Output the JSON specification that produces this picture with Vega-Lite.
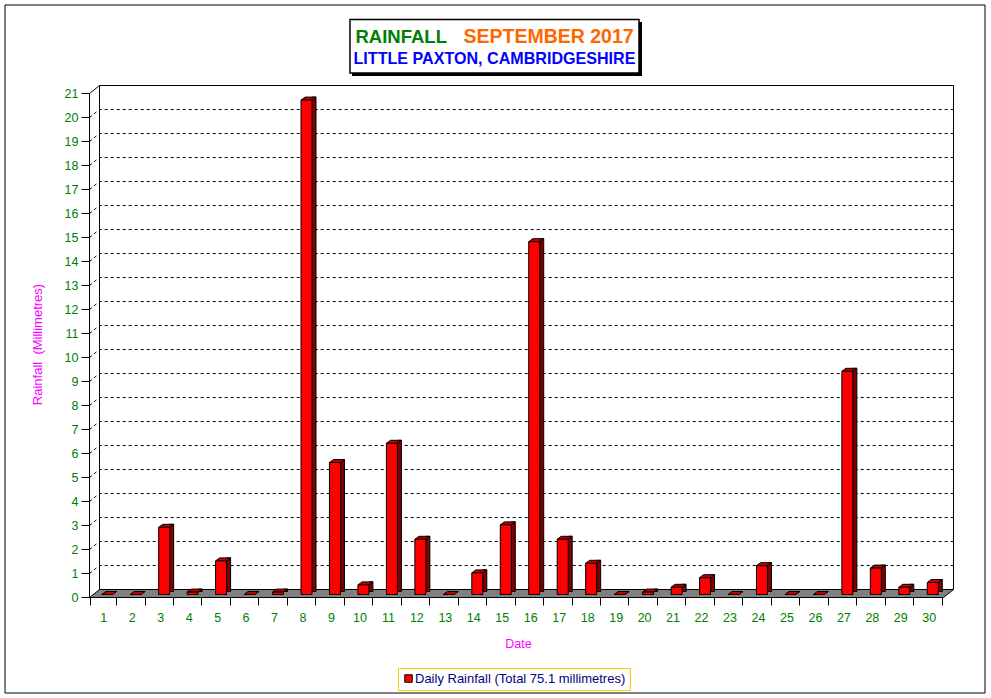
{"$schema":"https://vega.github.io/schema/vega-lite/v6.json","width":854,"height":504,"autosize":{"type":"none"},"padding":{"left":89,"top":93,"right":48,"bottom":101},"background":"white","config":{"view":{"stroke":null},"font":"Liberation Sans"},"datasets":{"rain":[{"day":1,"rain":0,"series":"Daily Rainfall (Total 75.1 millimetres)"},{"day":2,"rain":0,"series":"Daily Rainfall (Total 75.1 millimetres)"},{"day":3,"rain":2.8,"series":"Daily Rainfall (Total 75.1 millimetres)"},{"day":4,"rain":0.1,"series":"Daily Rainfall (Total 75.1 millimetres)"},{"day":5,"rain":1.4,"series":"Daily Rainfall (Total 75.1 millimetres)"},{"day":6,"rain":0,"series":"Daily Rainfall (Total 75.1 millimetres)"},{"day":7,"rain":0.1,"series":"Daily Rainfall (Total 75.1 millimetres)"},{"day":8,"rain":20.6,"series":"Daily Rainfall (Total 75.1 millimetres)"},{"day":9,"rain":5.5,"series":"Daily Rainfall (Total 75.1 millimetres)"},{"day":10,"rain":0.4,"series":"Daily Rainfall (Total 75.1 millimetres)"},{"day":11,"rain":6.3,"series":"Daily Rainfall (Total 75.1 millimetres)"},{"day":12,"rain":2.3,"series":"Daily Rainfall (Total 75.1 millimetres)"},{"day":13,"rain":0,"series":"Daily Rainfall (Total 75.1 millimetres)"},{"day":14,"rain":0.9,"series":"Daily Rainfall (Total 75.1 millimetres)"},{"day":15,"rain":2.9,"series":"Daily Rainfall (Total 75.1 millimetres)"},{"day":16,"rain":14.7,"series":"Daily Rainfall (Total 75.1 millimetres)"},{"day":17,"rain":2.3,"series":"Daily Rainfall (Total 75.1 millimetres)"},{"day":18,"rain":1.3,"series":"Daily Rainfall (Total 75.1 millimetres)"},{"day":19,"rain":0,"series":"Daily Rainfall (Total 75.1 millimetres)"},{"day":20,"rain":0.1,"series":"Daily Rainfall (Total 75.1 millimetres)"},{"day":21,"rain":0.3,"series":"Daily Rainfall (Total 75.1 millimetres)"},{"day":22,"rain":0.7,"series":"Daily Rainfall (Total 75.1 millimetres)"},{"day":23,"rain":0,"series":"Daily Rainfall (Total 75.1 millimetres)"},{"day":24,"rain":1.2,"series":"Daily Rainfall (Total 75.1 millimetres)"},{"day":25,"rain":0,"series":"Daily Rainfall (Total 75.1 millimetres)"},{"day":26,"rain":0,"series":"Daily Rainfall (Total 75.1 millimetres)"},{"day":27,"rain":9.3,"series":"Daily Rainfall (Total 75.1 millimetres)"},{"day":28,"rain":1.1,"series":"Daily Rainfall (Total 75.1 millimetres)"},{"day":29,"rain":0.3,"series":"Daily Rainfall (Total 75.1 millimetres)"},{"day":30,"rain":0.5,"series":"Daily Rainfall (Total 75.1 millimetres)"}],"grid":[{"rain":1},{"rain":2},{"rain":3},{"rain":4},{"rain":5},{"rain":6},{"rain":7},{"rain":8},{"rain":9},{"rain":10},{"rain":11},{"rain":12},{"rain":13},{"rain":14},{"rain":15},{"rain":16},{"rain":17},{"rain":18},{"rain":19},{"rain":20}],"one":[{"k":1}]},"data":{"name":"rain"},"encoding":{"x":{"field":"day","type":"ordinal","scale":{"domain":[1,2,3,4,5,6,7,8,9,10,11,12,13,14,15,16,17,18,19,20,21,22,23,24,25,26,27,28,29,30]},"axis":{"labelAngle":0,"tickBand":"extent","title":"Date","titleColor":"#ff00ff","titleFont":"Liberation Sans","titleFontSize":12.5,"titleFontWeight":"normal","titleX":429,"titleY":40,"labelColor":"#008000","labelFont":"Liberation Sans","labelFontSize":12.5,"labelPadding":6,"tickColor":"black","tickSize":8,"domainColor":"black"}},"y":{"field":"rain","type":"quantitative","scale":{"domain":[0,21],"nice":false},"axis":{"values":[0,1,2,3,4,5,6,7,8,9,10,11,12,13,14,15,16,17,18,19,20,21],"grid":false,"title":"Rainfall \u00a0(Millimetres)","titleColor":"#ff00ff","titleFont":"Liberation Sans","titleFontSize":13,"titleFontWeight":"normal","titleX":-45,"titleY":251,"labelColor":"#008000","labelFont":"Liberation Sans","labelFontSize":12.5,"labelPadding":3,"tickColor":"black","tickSize":8,"domainColor":"black"}}},"layer":[{"data":{"name":"one"},"mark":{"type":"rect","fill":"transparent","stroke":"black","strokeWidth":1,"clip":false},"encoding":{"x":{"value":-84},"x2":{"value":896},"y":{"value":-88},"y2":{"value":600}}},{"data":{"name":"one"},"mark":{"type":"rect","fill":"black"},"encoding":{"x":{"value":263},"x2":{"value":553},"y":{"value":-71},"y2":{"value":-17}}},{"data":{"name":"one"},"mark":{"type":"rect","fill":"white","stroke":"black","strokeWidth":1.5},"encoding":{"x":{"value":261},"x2":{"value":550},"y":{"value":-73.5},"y2":{"value":-20}}},{"data":{"name":"one"},"mark":{"type":"text","text":"RAINFALL","font":"Liberation Sans","fontSize":18.5,"fontWeight":"bold","fill":"#008000","align":"left","baseline":"alphabetic"},"encoding":{"x":{"value":266.5},"y":{"value":-50.5}}},{"data":{"name":"one"},"mark":{"type":"text","text":"SEPTEMBER 2017","font":"Liberation Sans","fontSize":19.5,"fontWeight":"bold","fill":"#ff6600","align":"left","baseline":"alphabetic"},"encoding":{"x":{"value":374.5},"y":{"value":-50.5}}},{"data":{"name":"one"},"mark":{"type":"text","text":"LITTLE PAXTON, CAMBRIDGESHIRE","font":"Liberation Sans","fontSize":16.1,"fontWeight":"bold","fill":"#0000ff","align":"left","baseline":"alphabetic"},"encoding":{"x":{"value":264.5},"y":{"value":-29}}},{"data":{"name":"one"},"mark":{"type":"point","shape":"M0,504L10,496L864,496L854,504Z","size":4,"filled":true,"fill":"#808080","stroke":"black","strokeWidth":1,"opacity":1,"xOffset":0.5,"yOffset":0.5},"encoding":{"x":{"value":0},"y":{"value":0}}},{"data":{"name":"one"},"mark":{"type":"point","shape":"M0,0L10,-8L10,496M10,-8L864,-8L864,496","size":4,"filled":false,"stroke":"black","strokeWidth":1,"opacity":1,"xOffset":0.5,"yOffset":0.5},"encoding":{"x":{"value":0},"y":{"value":0}}},{"data":{"name":"grid"},"mark":{"type":"point","shape":"M0,0L10,-8L864,-8","size":4,"filled":false,"stroke":"black","strokeWidth":1,"strokeDash":[3,3],"opacity":1,"xOffset":0.5,"yOffset":0.5},"encoding":{"x":{"value":0}}},{"transform":[{"filter":"datum.rain>0"}],"mark":{"type":"bar","width":4,"fill":"#800000","stroke":"black","strokeWidth":1,"xOffset":11.5,"yOffset":-5.5,"y2Offset":-5.5},"encoding":{"y2":{"datum":0}}},{"mark":{"type":"point","shape":"M-5.5,0L-1.5,-3L9.5,-3L5.5,0Z","size":4,"filled":true,"fill":"#c00000","stroke":"black","strokeWidth":1,"opacity":1,"xOffset":4,"yOffset":-2.5}},{"transform":[{"filter":"datum.rain>0"}],"mark":{"type":"bar","width":11,"stroke":"black","strokeWidth":1,"xOffset":4,"yOffset":-2.5,"y2Offset":-2.5},"encoding":{"y2":{"datum":0},"color":{"field":"series","type":"nominal","scale":{"range":["#ff0000"]},"legend":{"title":null,"orient":"none","legendX":309,"legendY":575,"fillColor":"white","strokeColor":"#ffcc00","padding":4,"symbolType":"square","symbolSize":56,"symbolStrokeColor":"black","symbolStrokeWidth":1,"labelColor":"#000080","labelFont":"Liberation Sans","labelFontSize":13,"labelOffset":0,"labelLimit":300}}}}]}
